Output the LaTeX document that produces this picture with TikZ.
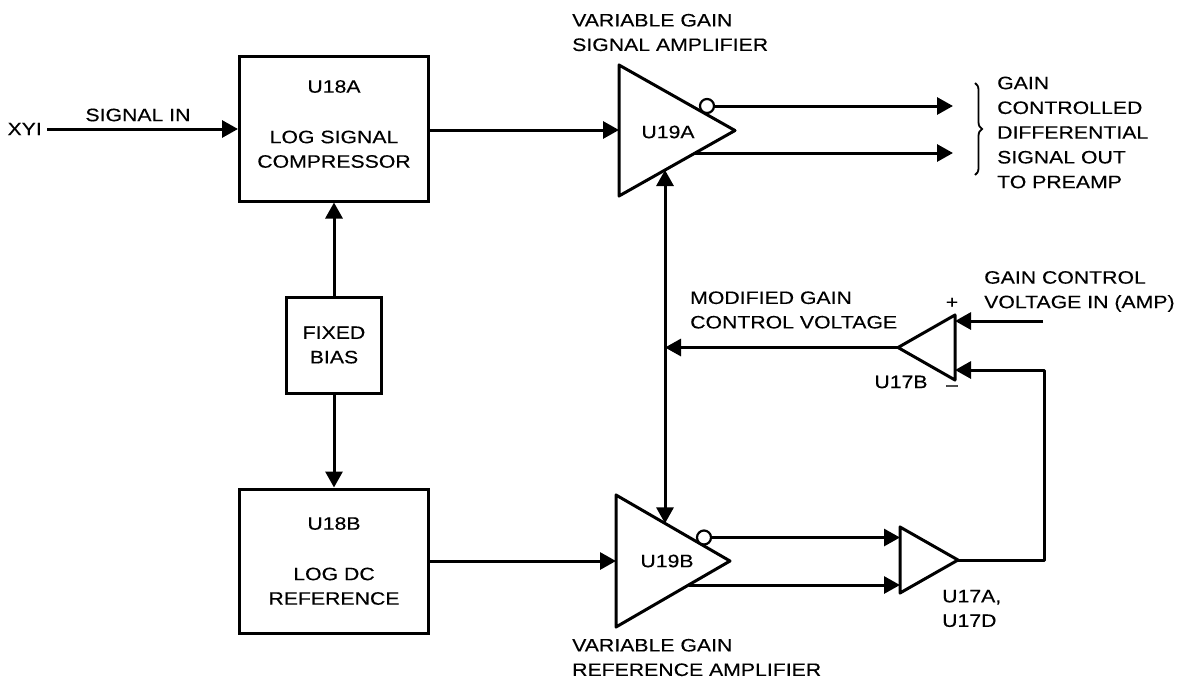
\documentclass[tikz,border=0pt]{standalone}
\usepackage{fontspec}
\setmainfont{Liberation Sans}[FakeStretch=1.18,FakeBold=0.3]
\usetikzlibrary{arrows.meta,decorations.pathreplacing,calc}

\begin{document}
\begin{tikzpicture}[x=1pt,y=-1pt,
  wire/.style={line width=3pt, line join=round},
  tip/.tip={Triangle[length=16pt,width=17pt]},
  arr/.style={wire,-tip},
  biarr/.style={wire,tip-tip},
  blk/.style={draw, line width=3pt, inner sep=0pt, align=center,
    font=\fontsize{18pt}{24.5pt}\selectfont},
  txt/.style={inner sep=0pt, font=\fontsize{18pt}{24.5pt}\selectfont},
  ltxt/.style={txt, align=left, anchor=west},
  amp/.style={line width=3pt, line join=round},
  bubble/.style={draw, circle, line width=2.2pt, minimum size=14pt, inner sep=0pt, fill=white}]

\useasboundingbox (0,0) rectangle (1185,681);

% ---------- left column: compressor, bias, reference ----------
\node[blk, minimum width=189pt, minimum height=145pt] (u18a) at (334,128.5) {};
\node[txt, align=center] (u18a-t) at (334,124) {U18A\\[26pt]LOG SIGNAL\\COMPRESSOR};
\node[blk, minimum width=95pt, minimum height=96pt] (bias) at (334,345) {FIXED\\BIAS};
\node[blk, minimum width=189pt, minimum height=144pt] (u18b) at (334,561) {U18B\\[26pt]LOG DC\\REFERENCE};

\draw[arr] (bias.north) -- (u18a.south);
\draw[arr] (bias.south) -- (u18b.north);

\node[txt, anchor=east] (xyi) at (42,129) {XYI};
\node[txt] (sigin) at (138,115) {SIGNAL IN};
\draw[arr] ([xshift=5pt]xyi.east) -- (xyi.east -| u18a.west);

% ---------- U19A: variable gain signal amplifier ----------
\coordinate (a19a-t) at (619,65);
\coordinate (a19a-b) at (619,196);
\coordinate (a19a-o) at (735,130.5);
\coordinate (a19a-in) at (619,130);
\coordinate (a19a-p) at (695,153);
\coordinate (a19a-c) at (665,170);
\draw[amp] (a19a-t) -- (a19a-o) -- (a19a-b) -- cycle;
\node[txt] (a19a-l) at (668,132) {U19A};
\node[bubble] (a19a-n) at (707,106) {};
\draw[arr] (u18a.east |- a19a-in) -- (a19a-in);

\coordinate (out1) at (953,106);
\coordinate (out2) at (953,153);
\draw[arr] (a19a-n.east) -- (out1);
\draw[arr] (a19a-p) -- (out2);
\draw[line width=1.8pt, decorate, decoration={brace, amplitude=7pt}] (975,83) -- (975,175);
\node[txt, align=left, anchor=west, font=\fontsize{18pt}{24.75pt}\selectfont] (outlbl) at (997,132.5)
  {GAIN\\CONTROLLED\\DIFFERENTIAL\\SIGNAL OUT\\TO PREAMP};
\node[ltxt] (vgs) at (572,32.5) {VARIABLE GAIN\\SIGNAL AMPLIFIER};

% ---------- U19B: variable gain reference amplifier ----------
\coordinate (a19b-t) at (616,495);
\coordinate (a19b-b) at (616,627);
\coordinate (a19b-o) at (730,561);
\coordinate (a19b-in) at (616,561);
\coordinate (a19b-p) at (688.5,585);
\coordinate (a19b-c) at (665,523.4);
\draw[amp] (a19b-t) -- (a19b-o) -- (a19b-b) -- cycle;
\node[txt] (a19b-l) at (667,561) {U19B};
\node[bubble] (a19b-n) at (704,537.5) {};
\draw[arr] (u18b.east |- a19b-in) -- (a19b-in);
\node[ltxt] (vgr) at (572,657.5) {VARIABLE GAIN\\REFERENCE AMPLIFIER};

% shared gain control line between the two amplifiers
\draw[biarr] (a19a-c) -- (a19b-c);

% ---------- U17A / U17D: difference amplifier ----------
\coordinate (a17a-t) at (900,527);
\coordinate (a17a-b) at (900,593);
\coordinate (a17a-o) at (958,560);
\coordinate (a17a-i1) at (900,537.5);
\coordinate (a17a-i2) at (900,585);
\draw[amp] (a17a-t) -- (a17a-o) -- (a17a-b) -- cycle;
\draw[arr] (a19b-n.east) -- (a17a-i1);
\draw[arr] (a19b-p) -- (a17a-i2);
\node[ltxt, align=left] (u17ad) at (942,608.5) {U17A,\\U17D};

% ---------- U17B: gain control amplifier ----------
\coordinate (a17b-t) at (955,315);
\coordinate (a17b-b) at (955,380);
\coordinate (a17b-o) at (898,347.5);
\coordinate (a17b-pos) at (955,321);
\coordinate (a17b-neg) at (955,370);
\coordinate (gcin) at (1043,321);
\coordinate (fbk) at (1044,560);
\draw[amp] (a17b-t) -- (a17b-o) -- (a17b-b) -- cycle;
\draw[arr] (gcin) -- (a17b-pos);
\draw[arr] (a17a-o) -- (fbk) |- (a17b-neg);
\draw[arr] (a17b-o) -- (a19a-c |- a17b-o);

\node[txt] (plus) at (952,303) {+};
\node[txt] (minus) at (952,388) {–};
\node[txt] (u17b-l) at (901,382) {U17B};
\node[ltxt] (mgcv) at (690,310) {MODIFIED GAIN\\CONTROL VOLTAGE};
\node[ltxt] (gcv) at (984,291.5) {GAIN CONTROL\\VOLTAGE IN (AMP)};
\end{tikzpicture}
\end{document}
